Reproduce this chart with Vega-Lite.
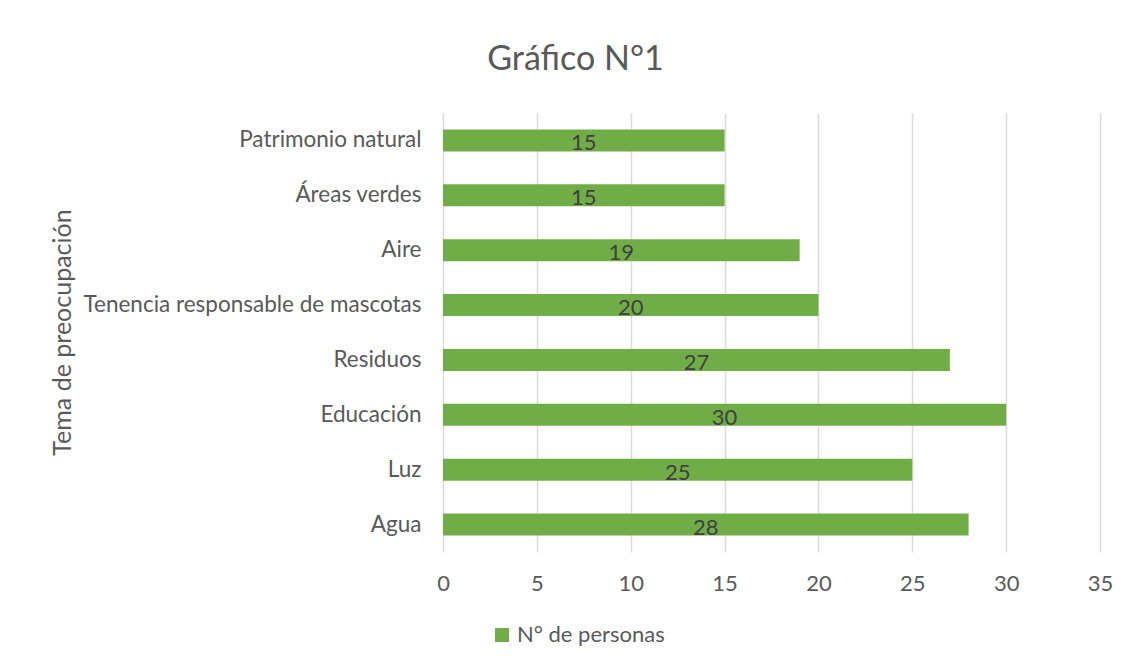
{
  "$schema": "https://vega.github.io/schema/vega-lite/v6.json",
  "width": 657,
  "height": 439,
  "autosize": {"type": "none"},
  "padding": {"left": 443, "top": 113, "right": 31, "bottom": 116},
  "background": "white",
  "title": {
    "text": "Gráfico N°1",
    "font": "Lato",
    "fontSize": 34,
    "fontWeight": "normal",
    "color": "#595959",
    "anchor": "middle",
    "dx": -196,
    "offset": 36
  },
  "data": {
    "values": [
      {"tema": "Patrimonio natural", "n": 15, "serie": "N° de personas"},
      {"tema": "Áreas verdes", "n": 15, "serie": "N° de personas"},
      {"tema": "Aire", "n": 19, "serie": "N° de personas"},
      {"tema": "Tenencia responsable de mascotas", "n": 20, "serie": "N° de personas"},
      {"tema": "Residuos", "n": 27, "serie": "N° de personas"},
      {"tema": "Educación", "n": 30, "serie": "N° de personas"},
      {"tema": "Luz", "n": 25, "serie": "N° de personas"},
      {"tema": "Agua", "n": 28, "serie": "N° de personas"}
    ]
  },
  "encoding": {
    "y": {
      "field": "tema",
      "type": "nominal",
      "sort": null,
      "scale": {"paddingInner": 0.6, "paddingOuter": 0.3},
      "axis": {
        "title": "Tema de preocupación",
        "titleFont": "Lato",
        "titleFontSize": 25,
        "titleFontWeight": "normal",
        "titleColor": "#595959",
        "titleAngle": -90,
        "titleX": -373,
        "titleY": 219,
        "titleAlign": "center",
        "titleBaseline": "alphabetic",
        "labelFont": "Lato",
        "labelFontSize": 22.5,
        "labelColor": "#595959",
        "labelPadding": 22,
        "labelLimit": 0,
        "ticks": false,
        "domain": false,
        "grid": false
      }
    }
  },
  "layer": [
    {
      "mark": {"type": "bar", "color": "#70ad47"},
      "encoding": {
        "x": {
          "field": "n",
          "type": "quantitative",
          "scale": {"domain": [0, 35]},
          "axis": {
            "title": null,
            "values": [0, 5, 10, 15, 20, 25, 30, 35],
            "labelFont": "Lato",
            "labelFontSize": 22,
            "labelColor": "#595959",
            "labelPadding": 21,
            "labelFlush": false,
            "ticks": false,
            "domain": false,
            "grid": true,
            "gridColor": "#d9d9d9",
            "gridWidth": 1.5
          }
        },
        "color": {
          "field": "serie",
          "type": "nominal",
          "scale": {"range": ["#70ad47"]},
          "legend": {
            "title": null,
            "orient": "none",
            "legendX": 48,
            "legendY": 511,
            "symbolType": "square",
            "symbolSize": 196,
            "symbolStrokeWidth": 0,
            "labelFont": "Lato",
            "labelFontSize": 22,
            "labelColor": "#595959",
            "labelOffset": 4
          }
        }
      }
    },
    {
      "mark": {
        "type": "text",
        "font": "Lato",
        "fontSize": 22,
        "color": "#404040",
        "dy": 3
      },
      "encoding": {
        "x": {
          "field": "n",
          "type": "quantitative",
          "scale": {"domain": [0, 70]},
          "axis": null
        },
        "text": {"field": "n", "type": "quantitative"}
      }
    }
  ],
  "resolve": {"scale": {"x": "independent"}},
  "config": {"view": {"stroke": null}}
}
